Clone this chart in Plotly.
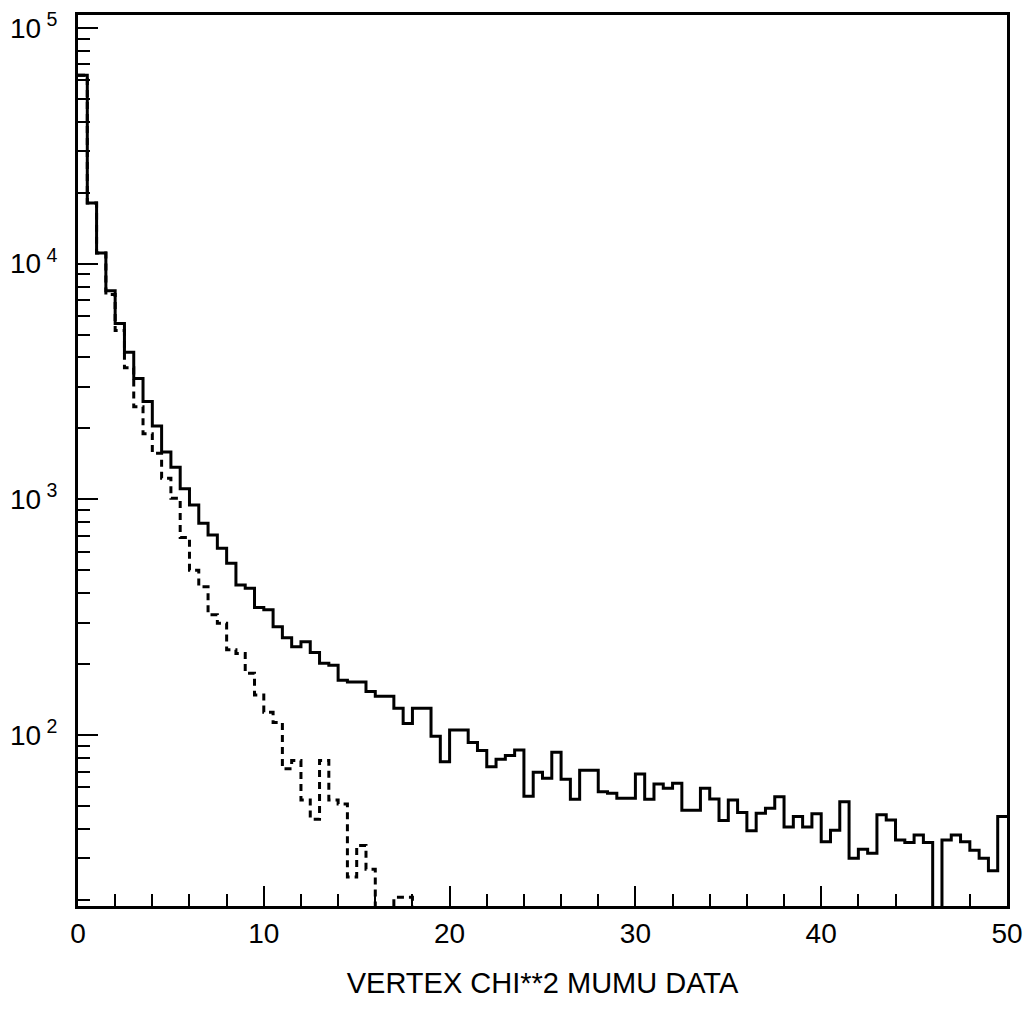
import numpy as np
import plotly.graph_objects as go

# ---------------- data ----------------
BIN_START = 0.0
BIN_WIDTH = 0.5

# solid histogram: all events, 100 bins of width 0.5 from 0 to 50
SOLID_COUNTS = [
    63000, 18100, 11100, 7670, 5580, 4210, 3260, 2600, 2050, 1590,
    1370, 1110, 946, 792, 707, 621, 536, 433, 420, 348,
    340, 288, 259, 237, 249, 224, 202, 198, 171, 168,
    168, 153, 146, 146, 130, 112, 130, 130, 99, 77,
    105, 105, 93, 86, 73.5, 79, 82, 86.5, 55, 69.5,
    65.6, 84.5, 65, 53.4, 71, 71, 57.5, 56.6, 54, 54,
    68.4, 53.4, 62, 59.5, 62.5, 48, 48, 59.5, 53.6, 43.4,
    53, 47, 39.3, 46.6, 49, 54.8, 40.8, 45.1, 40.8, 46.4,
    35.3, 39.5, 52.2, 30, 32.8, 31.5, 45.9, 43.6, 35.9, 35,
    37.7, 35, 0, 35.9, 37.7, 35.3, 32.5, 30, 26.6, 45.1,
]

# dashed histogram: second selection, same binning
DASHED_COUNTS = [
    63000, 18100, 11100, 7400, 5200, 3620, 2470, 1900, 1570, 1230,
    1010, 690, 501, 426, 324, 298, 230, 222, 183, 148,
    125, 113, 72, 78, 53, 44, 78, 53, 51, 25,
    34, 27, 0, 0, 20.5, 20.5, 0,
]

X_TICK_MAJOR = [0, 10, 20, 30, 40, 50]
X_TICK_MINOR = [2, 4, 6, 8, 12, 14, 16, 18, 22, 24, 26, 28,
                32, 34, 36, 38, 42, 44, 46, 48]
Y_TICK_MAJOR = [1e2, 1e3, 1e4, 1e5]
Y_TICK_TEXT = ["10<sup> 2</sup>", "10<sup> 3</sup>", "10<sup> 4</sup>", "10<sup> 5</sup>"]
Y_TICK_MINOR = [m * d for d in (10, 100, 1000, 10000) for m in range(2, 10)]

X_TITLE = "VERTEX CHI**2 MUMU DATA"

X_RANGE = [0, 50]
Y_LOG_RANGE = [1.275, 5.055]
LOG_FLOOR = 1.0  # empty bins drawn below the visible range


def step_xy(counts):
    edges = BIN_START + BIN_WIDTH * np.arange(len(counts) + 1)
    vals = [c if c > 0 else LOG_FLOOR for c in counts]
    vals = vals + [vals[-1]]
    return edges, vals


FONT = "Liberation Sans, Arial, Helvetica, sans-serif"

fig = go.Figure()

xd, yd = step_xy(DASHED_COUNTS)
fig.add_trace(go.Scatter(
    x=xd, y=yd, mode="lines", line_shape="hv",
    line=dict(color="black", width=3, dash="7px,5px"),
    showlegend=False, hoverinfo="skip",
))

xs, ys = step_xy(SOLID_COUNTS)
fig.add_trace(go.Scatter(
    x=xs, y=ys, mode="lines", line_shape="hv",
    line=dict(color="black", width=3),
    showlegend=False, hoverinfo="skip",
))

fig.update_layout(
    width=1034, height=1009, autosize=False,
    margin=dict(l=78, r=27, t=15, b=103, autoexpand=False),
    paper_bgcolor="white", plot_bgcolor="white",
    font=dict(family=FONT, color="black"),
)

fig.update_xaxes(
    range=X_RANGE, showgrid=False, zeroline=False, automargin=False,
    showline=True, linecolor="black", linewidth=3, mirror=True,
    tickmode="array", tickvals=X_TICK_MAJOR,
    ticks="inside", ticklen=20, tickwidth=2, tickcolor="black",
    tickfont=dict(family=FONT, size=28, color="black"),
    ticklabelstandoff=0,
    minor=dict(tickmode="array", tickvals=X_TICK_MINOR, ticks="inside",
               ticklen=12, tickwidth=2, tickcolor="black", showgrid=False),
    title=dict(text=X_TITLE, font=dict(family=FONT, size=29, color="black"),
               standoff=26),
)

fig.update_yaxes(
    type="log", range=Y_LOG_RANGE, showgrid=False, zeroline=False,
    automargin=False,
    showline=True, linecolor="black", linewidth=3, mirror=True,
    tickmode="array", tickvals=Y_TICK_MAJOR, ticktext=Y_TICK_TEXT,
    ticks="inside", ticklen=20, tickwidth=2, tickcolor="black",
    tickfont=dict(family=FONT, size=28, color="black"),
    ticklabelstandoff=12,
    minor=dict(tickmode="array", tickvals=Y_TICK_MINOR, ticks="inside",
               ticklen=12, tickwidth=2, tickcolor="black", showgrid=False),
)

fig.write_html(
    "out.html",
    config={"displayModeBar": False, "staticPlot": True},
    post_script="document.body.style.margin='0px';"
                "document.body.style.overflow='hidden';",
)
